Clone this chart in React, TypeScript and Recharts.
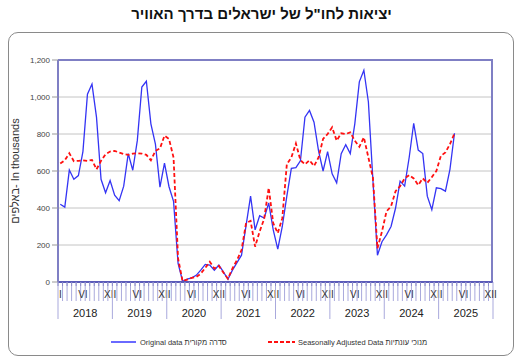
import React from "react";
import { LineChart, Line, XAxis, YAxis, CartesianGrid, Label } from "recharts";

const years = [2018, 2019, 2020, 2021, 2022, 2023, 2024, 2025];
const monthLabels: Record<number, string> = { 0: "I", 5: "VI", 11: "XII" };
const yTicks = [0, 200, 400, 600, 800, 1000, 1200];

const original2018 = [420, 405, 605, 555, 575, 705, 1015, 1070, 890, 555, 482, 549];
const original2019 = [469, 440, 518, 694, 604, 764, 1054, 1085, 855, 745, 513, 642];
const original2020 = [515, 436, 100, 4, 15, 22, 36, 64, 95, 91, 64, 91];
const original2021 = [55, 15, 64, 105, 145, 305, 464, 282, 358, 345, 427, 282];
const original2022 = [178, 300, 464, 614, 618, 655, 891, 927, 864, 709, 600, 705];
const original2023 = [585, 536, 694, 742, 694, 855, 1082, 1145, 973, 550, 145, 218];
const original2024 = [255, 300, 400, 545, 518, 673, 858, 713, 694, 464, 391, 509];
const original2025 = [505, 491, 609, 804];

const adjusted2018 = [640, 658, 696, 653, 655, 658, 655, 660, 609, 655, 691, 705];
const adjusted2019 = [709, 700, 691, 687, 694, 696, 694, 687, 658, 709, 722, 791];
const adjusted2020 = [773, 673, 127, 4, 13, 22, 27, 45, 76, 109, 73, 87];
const adjusted2021 = [51, 18, 73, 118, 173, 318, 331, 191, 273, 342, 509, 318];
const adjusted2022 = [264, 345, 636, 673, 749, 658, 636, 658, 627, 673, 773, 800];
const adjusted2023 = [836, 764, 804, 800, 809, 764, 731, 782, 673, 564, 182, 273];
const adjusted2024 = [382, 409, 491, 518, 560, 578, 560, 524, 560, 536, 567, 600];
const adjusted2025 = [682, 700, 745, 804];

const original = [
  ...original2018, ...original2019, ...original2020, ...original2021,
  ...original2022, ...original2023, ...original2024, ...original2025,
];
const adjusted = [
  ...adjusted2018, ...adjusted2019, ...adjusted2020, ...adjusted2021,
  ...adjusted2022, ...adjusted2023, ...adjusted2024, ...adjusted2025,
];

const data = years.flatMap((yr, yi) =>
  Array.from({ length: 12 }, (_, m) => {
    const i = yi * 12 + m;
    return {
      idx: i,
      year: yr,
      month: m,
      original: i < original.length ? original[i] : null,
      adjusted: i < adjusted.length ? adjusted[i] : null,
    };
  })
);

const W = 523;
const H = 363;
const MARGIN = { top: 60, right: 30, bottom: 0, left: 18 };
const Y_AXIS_W = 40;
const X_AXIS_H = 81;
const PLOT_W = W - MARGIN.left - MARGIN.right - Y_AXIS_W;
const BW = PLOT_W / data.length;

const FONT = '"Liberation Sans", Arial, sans-serif';
const FRAME_BLUE = "#7f7fc4";
const TICK_BLUE = "#a9a9dc";

const MonthTick = (props: any) => {
  const { x, y, payload } = props;
  const i = payload.index ?? payload.value;
  const m = i % 12;
  const yr = years[Math.floor(i / 12)];
  const xl = x - BW / 2;
  const xr = x + BW / 2;
  // January "I" after the first year sits under the previous "XII" and merges with it
  const label = m === 0 && i > 0 ? undefined : monthLabels[m];
  return (
    <g>
      <line x1={xl} x2={xl} y1={y} y2={m === 0 ? y + 37 : y + 19} stroke={TICK_BLUE} strokeWidth={1} />
      <line x1={xl} x2={xl} y1={y} y2={y + 4} stroke="#8c8cc8" strokeWidth={1} />
      {i === data.length - 1 && (
        <line x1={xr} x2={xr} y1={y} y2={y + 37} stroke={TICK_BLUE} strokeWidth={1} />
      )}
      {label && (
        <text x={x} y={y + 16} textAnchor="middle" fontSize={10} fill="#333" fontFamily={FONT}>
          {label}
        </text>
      )}
      {m === 6 && (
        <text x={xl} y={y + 35} textAnchor="middle" fontSize={11} fill="#222" fontFamily={FONT}>
          {yr}
        </text>
      )}
    </g>
  );
};

const YLabel = (props: any) => {
  const vb = props.viewBox || { x: 18, y: 60, width: 40, height: 222 };
  const cx = vb.x - 3;
  const cy = vb.y + vb.height / 2;
  return (
    <text
      x={cx}
      y={cy}
      transform={`rotate(-90 ${cx} ${cy})`}
      textAnchor="middle"
      dominantBaseline="central"
      fontSize={11}
      fill="#333"
      fontFamily={FONT}
    >
      באלפים- In thousands
    </text>
  );
};

export default function App() {
  const plotLeft = MARGIN.left + Y_AXIS_W;
  const plotTop = MARGIN.top;
  const plotH = H - MARGIN.top - MARGIN.bottom - X_AXIS_H;
  return (
    <div style={{ position: "absolute", left: 0, top: 0, width: W, height: H, background: "#fff", fontFamily: FONT }}>
      <div
        style={{
          position: "absolute",
          left: 8,
          top: 32,
          width: 506,
          height: 324,
          border: "1px solid #8a8a8a",
          borderRadius: 10,
          boxSizing: "border-box",
        }}
      />
      <div
        style={{
          position: "absolute",
          left: 0,
          top: 5,
          width: W,
          textAlign: "center",
          fontWeight: "bold",
          fontSize: 15,
          direction: "rtl",
          color: "#111",
        }}
      >
        יציאות לחו"ל של ישראלים בדרך האוויר
      </div>
      <div style={{ position: "absolute", left: 0, top: 0 }}>
        <LineChart width={W} height={H} data={data} margin={MARGIN}>
          <CartesianGrid horizontal vertical={false} stroke="#c4c4c4" strokeWidth={1} />
          <XAxis
            dataKey="idx"
            type="category"
            interval={0}
            height={X_AXIS_H}
            tickSize={0}
            tickMargin={0}
            tickLine={false}
            axisLine={{ stroke: "#5a5ab8", strokeWidth: 2 }}
            padding={{ left: BW / 2, right: BW / 2 }}
            tick={<MonthTick />}
          />
          <YAxis
            width={Y_AXIS_W}
            domain={[0, 1200]}
            ticks={yTicks}
            interval={0}
            tickFormatter={(v: number) => v.toLocaleString("en-US")}
            tick={{ fontSize: 8, fill: "#444", fontFamily: FONT }}
            tickLine={{ stroke: "#999" }}
            axisLine={{ stroke: FRAME_BLUE, strokeWidth: 2 }}
          >
            <Label content={<YLabel />} />
          </YAxis>
          <Line
            type="linear"
            dataKey="original"
            stroke="#3434f4"
            strokeWidth={1.3}
            dot={false}
            isAnimationActive={false}
            connectNulls={false}
          />
          <Line
            type="linear"
            dataKey="adjusted"
            stroke="#ff1010"
            strokeWidth={1.8}
            strokeDasharray="4 2.5"
            dot={false}
            isAnimationActive={false}
            connectNulls={false}
          />
        </LineChart>
      </div>
      <div
        style={{
          position: "absolute",
          left: plotLeft,
          top: plotTop,
          width: PLOT_W,
          height: plotH,
          borderTop: `2px solid ${FRAME_BLUE}`,
          borderRight: `2px solid ${FRAME_BLUE}`,
          boxSizing: "border-box",
          pointerEvents: "none",
          marginTop: -1,
          marginRight: -1,
        }}
      />
      <svg style={{ position: "absolute", left: 0, top: 0 }} width={W} height={H}>
        <line x1={111} x2={136} y1={342} y2={342} stroke="#6a6aff" strokeWidth={2} />
        <text x={140} y={345} fontSize={7.5} fill="#333" fontFamily={FONT}>
          Original data סדרה מקורית
        </text>
        <line x1={268} x2={295} y1={342} y2={342} stroke="#ff1010" strokeWidth={2} strokeDasharray="4 2" />
        <text x={298} y={345} fontSize={7.5} fill="#333" fontFamily={FONT}>
          Seasonally Adjusted Data מנוכי עונתיות
        </text>
      </svg>
    </div>
  );
}
